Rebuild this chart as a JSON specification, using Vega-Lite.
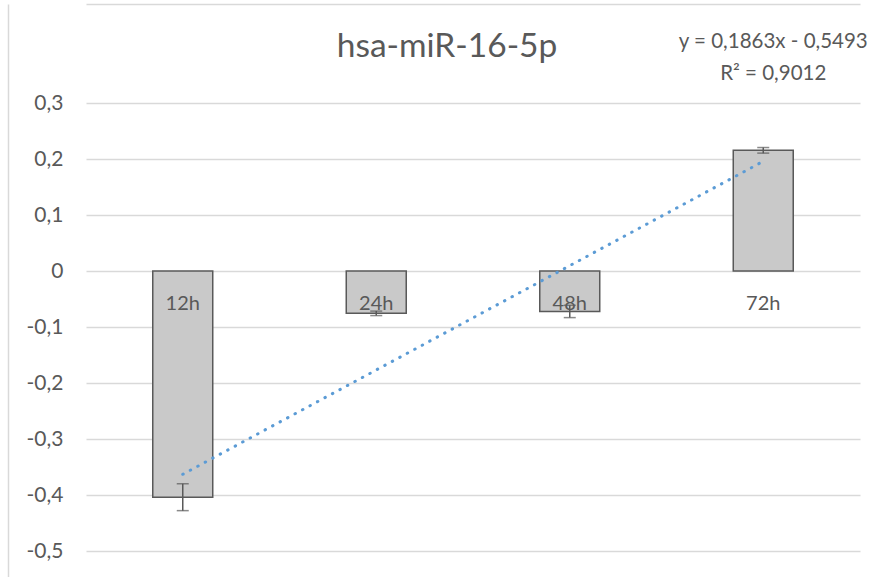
{
  "$schema": "https://vega.github.io/schema/vega-lite/v6.json",
  "autosize": {"type": "none"},
  "padding": {"left": 86, "top": 4, "right": 17, "bottom": 0},
  "width": 774,
  "height": 573,
  "background": "white",
  "config": {
    "locale": {"number": {"decimal": ",", "thousands": ".", "grouping": [3], "currency": ["", " €"], "minus": "-"}},
    "view": {"stroke": null},
    "font": "Lato"
  },
  "title": {
    "text": "hsa-miR-16-5p",
    "anchor": "middle",
    "frame": "group",
    "offset": 0,
    "baseline": "alphabetic",
    "dx": -26,
    "dy": 86,
    "font": "Lato",
    "fontSize": 33.5,
    "fontWeight": "normal",
    "color": "#595959"
  },
  "data": {
    "values": [
      {"hour": "12h", "value": -0.4039, "lo": -0.4279, "hi": -0.3799, "trend": -0.363},
      {"hour": "24h", "value": -0.0756, "lo": -0.0796, "hi": -0.0716, "trend": -0.1767},
      {"hour": "48h", "value": -0.0722, "lo": -0.0832, "hi": -0.0612, "trend": 0.0096},
      {"hour": "72h", "value": 0.2155, "lo": 0.2105, "hi": 0.2205, "trend": 0.1959}
    ]
  },
  "encoding": {
    "x": {
      "field": "hour",
      "type": "nominal",
      "sort": null,
      "scale": {"paddingInner": 0.69, "paddingOuter": 0.345},
      "axis": {"orient": "top", "offset": 0, "labels": false, "ticks": false, "title": null, "domain": true, "domainColor": "#D9D9D9", "domainWidth": 1.5, "grid": false}
    }
  },
  "layer": [
    {
      "mark": {"type": "bar", "fill": "#C9C9C9", "stroke": "#595959", "strokeWidth": 1.5},
      "encoding": {
        "y": {
          "field": "value",
          "type": "quantitative",
          "scale": {"domain": [-0.5464, 0.4768], "nice": false, "zero": false},
          "axis": {
            "title": null,
            "values": [-0.5, -0.4, -0.3, -0.2, -0.1, 0, 0.1, 0.2, 0.3],
            "format": ".1~f",
            "grid": true,
            "gridColor": "#D9D9D9",
            "gridWidth": 1.5,
            "ticks": false,
            "tickSize": 0,
            "domain": true,
            "domainColor": "#D9D9D9",
            "domainWidth": 1.5,
            "offset": 78,
            "labelPadding": -55,
            "labelFont": "Lato",
            "labelFontSize": 21,
            "labelColor": "#595959"
          }
        }
      }
    },
    {
      "mark": {"type": "rule", "color": "#595959", "strokeWidth": 1.5},
      "encoding": {
        "y": {"field": "lo", "type": "quantitative"},
        "y2": {"field": "hi"}
      }
    },
    {
      "mark": {"type": "tick", "color": "#595959", "thickness": 1.5, "size": 12},
      "encoding": {"y": {"field": "lo", "type": "quantitative"}}
    },
    {
      "mark": {"type": "tick", "color": "#595959", "thickness": 1.5, "size": 12},
      "encoding": {"y": {"field": "hi", "type": "quantitative"}}
    },
    {
      "mark": {"type": "line", "color": "#5B9BD5", "strokeWidth": 3, "strokeDash": [0.5, 8], "strokeCap": "round"},
      "encoding": {"y": {"field": "trend", "type": "quantitative"}}
    },
    {
      "mark": {"type": "text", "baseline": "alphabetic", "align": "center", "dy": 39, "fontSize": 20, "color": "#595959", "font": "Lato"},
      "encoding": {
        "y": {"datum": 0},
        "text": {"field": "hour"}
      }
    },
    {
      "data": {"values": [{"label": "y = 0,1863x - 0,5493"}]},
      "mark": {"type": "text", "baseline": "alphabetic", "align": "center", "dx": 10, "fontSize": 20.5, "color": "#595959", "font": "Lato"},
      "encoding": {
        "x": {"datum": "72h"},
        "y": {"datum": 0.3982},
        "text": {"field": "label"}
      }
    },
    {
      "data": {"values": [{"label": "R² = 0,9012"}]},
      "mark": {"type": "text", "baseline": "alphabetic", "align": "center", "dx": 10, "fontSize": 20.5, "color": "#595959", "font": "Lato"},
      "encoding": {
        "x": {"datum": "72h"},
        "y": {"datum": 0.341},
        "text": {"field": "label"}
      }
    }
  ]
}
